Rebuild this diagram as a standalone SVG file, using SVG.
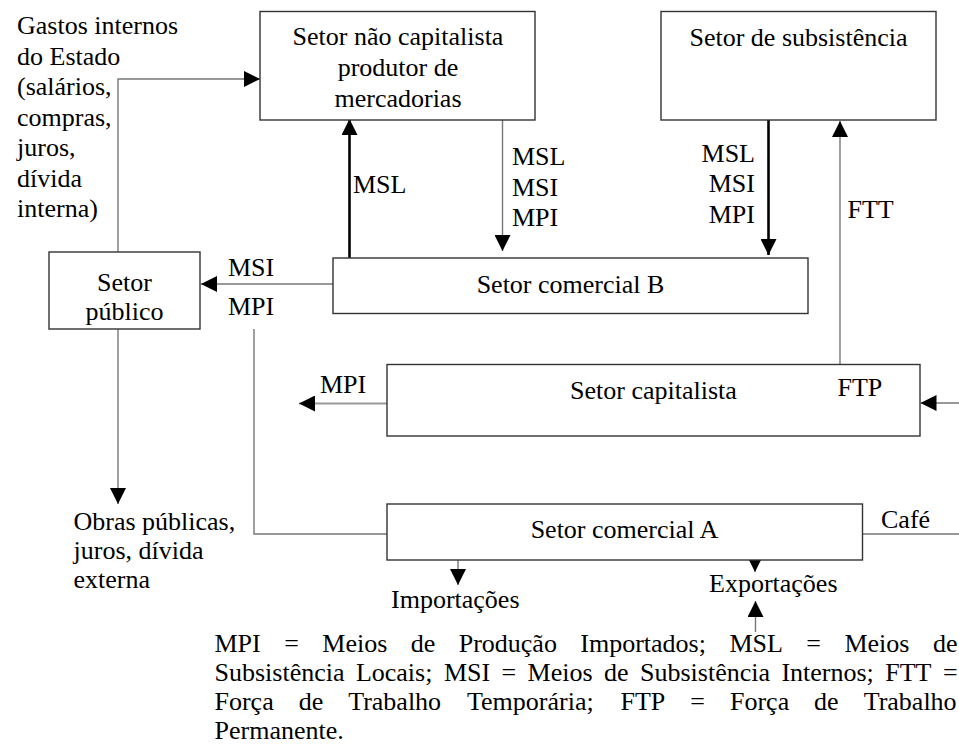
<svg xmlns="http://www.w3.org/2000/svg" width="959" height="746" viewBox="0 0 959 746">
<style>
.t{font-family:"Liberation Serif","Times New Roman",serif;font-size:26px;fill:#000}
.c{text-anchor:middle}
.e{text-anchor:end}
.box{fill:#fff;stroke:#333;stroke-width:1.4}
.thin{fill:none;stroke:#777;stroke-width:1.4}
.light{fill:none;stroke:#999;stroke-width:2}
.thick{fill:none;stroke:#000;stroke-width:2.6}
</style>
<defs>
<marker id="ah" viewBox="0 0 16 16" refX="16" refY="8" markerWidth="16" markerHeight="16" orient="auto" markerUnits="userSpaceOnUse">
<path d="M0,0 L16,8 L0,16 z" fill="#000"/>
</marker>
</defs>
<rect width="959" height="746" fill="#fff"/>

<g id="connectors">
<polyline class="thin" points="118,252 118,79 260,79" marker-end="url(#ah)"/>
<line class="thick" x1="349.5" y1="258" x2="349.5" y2="119" marker-end="url(#ah)"/>
<line class="thin" x1="502.5" y1="117" x2="502.5" y2="251" marker-end="url(#ah)"/>
<line class="thick" x1="768.5" y1="117" x2="768.5" y2="255" marker-end="url(#ah)"/>
<line class="thin" x1="840" y1="364" x2="840" y2="121" marker-end="url(#ah)"/>
<line class="thin" x1="333" y1="284" x2="201" y2="284" marker-end="url(#ah)"/>
<line class="thin" x1="118" y1="329" x2="118" y2="504" marker-end="url(#ah)"/>
<polyline class="thin" points="254,329 254,534 458,534 458,585" marker-end="url(#ah)"/>
<line class="light" x1="387" y1="403.5" x2="299" y2="403.5" marker-end="url(#ah)"/>
<line class="thin" x1="959" y1="403" x2="920.5" y2="403" marker-end="url(#ah)"/>
<line class="thin" x1="920" y1="403" x2="767" y2="403" marker-end="url(#ah)"/>
<polyline class="thin" points="959,534 755,534 755,572" marker-end="url(#ah)"/>
<line class="thin" x1="755.5" y1="632" x2="755.5" y2="601" marker-end="url(#ah)"/>
</g>

<g id="setor-nao-capitalista">
<rect class="box" x="260" y="11.5" width="275" height="108.5"/>
<text class="t c" x="398" y="45">Setor não capitalista</text>
<text class="t c" x="398" y="76">produtor de</text>
<text class="t c" x="398" y="107">mercadorias</text>
</g>

<g id="setor-subsistencia">
<rect class="box" x="661" y="11.5" width="275" height="108.5"/>
<text class="t c" x="798.5" y="46">Setor de subsistência</text>
</g>

<g id="setor-publico">
<rect class="box" x="49" y="252" width="151" height="77"/>
<text class="t c" x="124.5" y="290.5">Setor</text>
<text class="t c" x="124.5" y="320">público</text>
</g>

<g id="setor-comercial-b">
<rect class="box" x="333" y="258" width="475" height="55.5"/>
<text class="t c" x="570.5" y="292.5">Setor comercial B</text>
</g>

<g id="setor-capitalista">
<rect class="box" x="387" y="364.5" width="533" height="71.5"/>
<text class="t c" x="653.5" y="399">Setor capitalista</text>
</g>

<g id="setor-comercial-a">
<rect class="box" x="387" y="504" width="475.5" height="56"/>
<text class="t c" x="624.5" y="538">Setor comercial A</text>
</g>

<g id="labels">
<text class="t" x="17" y="34">Gastos internos</text>
<text class="t" x="17" y="64.5">do Estado</text>
<text class="t" x="17" y="95">(salários,</text>
<text class="t" x="17" y="125.5">compras,</text>
<text class="t" x="17" y="156">juros,</text>
<text class="t" x="17" y="186.5">dívida</text>
<text class="t" x="17" y="217">interna)</text>

<text class="t" x="353" y="193">MSL</text>
<text class="t" x="512" y="165">MSL</text>
<text class="t" x="512" y="195.5">MSI</text>
<text class="t" x="512" y="226">MPI</text>
<text class="t e" x="755" y="161.5">MSL</text>
<text class="t e" x="755" y="192">MSI</text>
<text class="t e" x="755" y="222.5">MPI</text>
<text class="t" x="847.5" y="217.5">FTT</text>
<text class="t" x="228" y="276">MSI</text>
<text class="t" x="228" y="315">MPI</text>
<text class="t" x="320" y="393">MPI</text>
<text class="t" x="837.5" y="396">FTP</text>
<text class="t" x="881" y="528">Café</text>
<text class="t" x="73.5" y="529.5">Obras públicas,</text>
<text class="t" x="73.5" y="558.5">juros, dívida</text>
<text class="t" x="73.5" y="588">externa</text>
<text class="t" x="391" y="608">Importações</text>
<text class="t" x="709" y="592">Exportações</text>
</g>

<g id="legend">
<text class="t" y="652"><tspan x="214.5">MPI</tspan><tspan x="284.2">=</tspan><tspan x="322.3">Meios</tspan><tspan x="410.7">de</tspan><tspan x="458.7">Produção</tspan><tspan x="580.3">Importados;</tspan><tspan x="729.4">MSL</tspan><tspan x="806.3">=</tspan><tspan x="844.4">Meios</tspan><tspan x="932.9">de</tspan></text>
<text class="t" y="681"><tspan x="214.5">Subsistência</tspan><tspan x="355.9">Locais;</tspan><tspan x="443.9">MSI</tspan><tspan x="501.5">=</tspan><tspan x="527.6">Meios</tspan><tspan x="604">de</tspan><tspan x="640">Subsistência</tspan><tspan x="781.4">Internos;</tspan><tspan x="885.2">FTT</tspan><tspan x="942.9">=</tspan></text>
<text class="t" y="710"><tspan x="214.5">Força</tspan><tspan x="298.7">de</tspan><tspan x="348.2">Trabalho</tspan><tspan x="467">Temporária;</tspan><tspan x="620.5">FTP</tspan><tspan x="690.3">=</tspan><tspan x="730">Força</tspan><tspan x="814.1">de</tspan><tspan x="863.7">Trabalho</tspan></text>
<text class="t" x="214.5" y="739">Permanente.</text>
</g>
</svg>
